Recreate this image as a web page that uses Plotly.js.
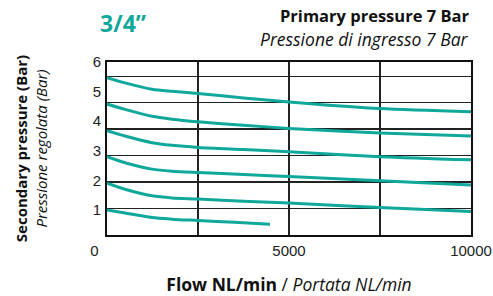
<!DOCTYPE html>
<html>
<head>
<meta charset="utf-8">
<script src="https://cdn.plot.ly/plotly-3.0.1.min.js"></script>
<style>html,body{margin:0;padding:0;background:#fff;}#chart{width:493px;height:296px;}</style>
</head>
<body>
<div id="chart"></div>
<script>
// Flow (NL/min) sample points
const flow = [0, 495, 1236, 1786, 2500, 3750, 5000, 7500, 10000];
const flowShort = [0, 495, 1236, 1786, 2500, 3500, 4478];
// Secondary pressure (Bar), one series per set point
const p6 = [5.95, 5.75, 5.51, 5.43, 5.35, 5.18, 5.03, 4.78, 4.66];
const p5 = [4.95, 4.75, 4.49, 4.38, 4.28, 4.15, 4.03, 3.86, 3.74];
const p4 = [3.94, 3.74, 3.49, 3.39, 3.31, 3.23, 3.15, 2.96, 2.84];
const p3 = [2.96, 2.73, 2.49, 2.41, 2.36, 2.29, 2.21, 2.05, 1.89];
const p2 = [1.96, 1.73, 1.48, 1.40, 1.36, 1.28, 1.21, 1.04, 0.89];
const p1 = [0.95, 0.83, 0.66, 0.60, 0.55, 0.48, 0.41];
// Tick labels
const xTickVals = [0, 2500, 5000, 7500, 10000];
const xTickText = ['0\u00a0\u00a0\u00a0\u00a0\u00a0\u00a0', '', '5000', '', '10000'];
const yTickVals = [1, 2, 3, 4, 5, 6];
const yTickText = ['1', '2', '3', '4', '5', '6'];

const teal = '#0fa89a';
const series = [[flow, p6], [flow, p5], [flow, p4], [flow, p3], [flow, p2], [flowShort, p1]];
const traces = series.map(([x, y]) => ({
  x: x, y: y, type: 'scatter', mode: 'lines',
  line: {color: teal, width: 3, shape: 'spline', smoothing: 0.8},
  hoverinfo: 'skip', showlegend: false
}));
// empty trace so that the label axis (y2) is drawn
traces.push({x: [null], y: [null], yaxis: 'y2', type: 'scatter', mode: 'lines',
  hoverinfo: 'skip', showlegend: false});

const txtFont = 'Open Sans, Lato, sans-serif';
const tickFont = {family: 'Liberation Sans, Arial, sans-serif', size: 15, color: '#222'};
const layout = {
  width: 493, height: 296,
  margin: {l: 107, r: 22, t: 62, b: 61, pad: 0},
  paper_bgcolor: '#fff', plot_bgcolor: '#fff',
  showlegend: false,
  xaxis: {
    range: [0, 10000], tickmode: 'array', tickvals: xTickVals, ticktext: xTickText,
    showgrid: true, gridcolor: '#222', gridwidth: 1.5, zeroline: false,
    showline: true, mirror: true, linecolor: '#111', linewidth: 2,
    ticks: '', tickfont: tickFont, ticklabelstandoff: 1,
    title: {
      text: '<b>Flow NL/min</b> / <i>Portata NL/min</i>',
      font: {family: txtFont, size: 17.5, color: '#111'},
      standoff: 21
    }
  },
  yaxis: {
    range: [0, 6.54], dtick: 1, tick0: 0,
    showgrid: true, gridcolor: '#222', gridwidth: 1.5, zeroline: false,
    showline: true, mirror: true, linecolor: '#111', linewidth: 2,
    ticks: '', showticklabels: false
  },
  yaxis2: {
    overlaying: 'y', side: 'left', range: [0.147, 6.005],
    tickmode: 'array', tickvals: yTickVals, ticktext: yTickText,
    showgrid: false, zeroline: false, showline: false, ticks: '',
    tickfont: tickFont, ticklabelstandoff: 5,
    title: {
      text: '<b>Secondary pressure (Bar)</b><br><i>Pressione regolata (Bar)</i>',
      font: {family: txtFont, size: 15, color: '#111'},
      standoff: 41
    }
  },
  annotations: [
    {text: '<b>3/4\u201d</b>', xref: 'paper', yref: 'paper',
     x: -0.024, xanchor: 'left', y: 1.223, yanchor: 'middle', showarrow: false,
     font: {family: txtFont, size: 23, color: '#12a899'}},
    {text: '<b>Primary pressure 7 Bar</b>', xref: 'paper', yref: 'paper',
     x: 1, xanchor: 'right', y: 1.269, yanchor: 'middle', showarrow: false,
     font: {family: txtFont, size: 16.5, color: '#111'}},
    {text: '<i>Pressione di ingresso 7 Bar</i>', xref: 'paper', yref: 'paper',
     x: 1, xanchor: 'right', y: 1.134, yanchor: 'middle', showarrow: false,
     font: {family: txtFont, size: 17.5, color: '#111'}}
  ]
};

Plotly.newPlot('chart', traces, layout, {staticPlot: true, displayModeBar: false});
</script>
</body>
</html>
